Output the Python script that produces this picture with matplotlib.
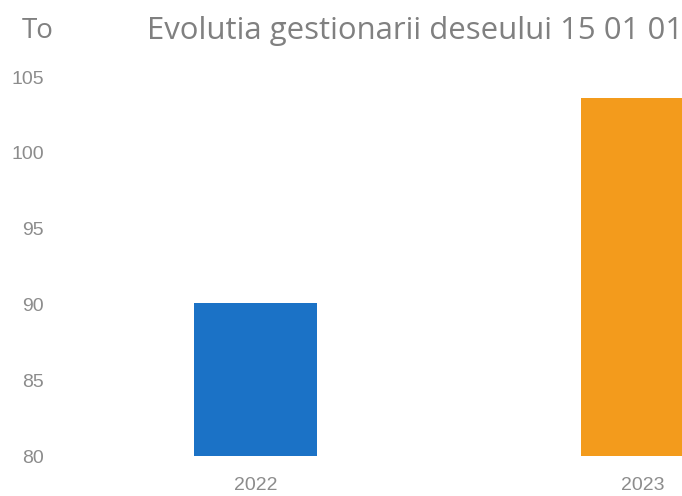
import matplotlib
matplotlib.use("Agg")
import matplotlib.pyplot as plt

years = ["2022", "2023"]
tonnes = [90.1, 103.6]
bar_colors = ["#1b72c6", "#f39b1c"]
y_ticks = [80, 85, 90, 95, 100, 105]

title_text = "Evolutia gestionarii deseului 15 01 01"
unit_label = "To"

plt.rcParams["font.family"] = ["Open Sans", "DejaVu Sans"]

fig = plt.figure(figsize=(6.82, 4.96), dpi=100)
# axes runs past the right edge, like the cropped scan
ax = fig.add_axes([0.0909, 0.0806, 1.135, 0.7641])

x = range(len(years))
ax.bar(x, [v - 80 for v in tonnes], bottom=80, width=0.318, color=bar_colors)

ax.set_xlim(-0.5, 1.5)
ax.set_ylim(80, 105)
ax.set_yticks(y_ticks)
ax.set_yticklabels([str(t) for t in y_ticks])
ax.set_xticks(list(x))
ax.set_xticklabels(years)

for side in ax.spines.values():
    side.set_visible(False)
ax.tick_params(axis="both", length=0, colors="#8c8c8c", labelsize=14)
ax.tick_params(axis="y", pad=13)
ax.tick_params(axis="x", pad=15)
for lbl in ax.get_yticklabels() + ax.get_xticklabels():
    lbl.set_family(["Liberation Sans", "DejaVu Sans"])

fig.text(147 / 682, 1 - 31 / 496, title_text, fontsize=22.4, color="#808080",
         ha="left", va="center")
fig.text(22 / 682, 1 - 31 / 496, unit_label, fontsize=20, color="#808080",
         ha="left", va="center")

fig.savefig("out.png", dpi=100)
plt.close(fig)
